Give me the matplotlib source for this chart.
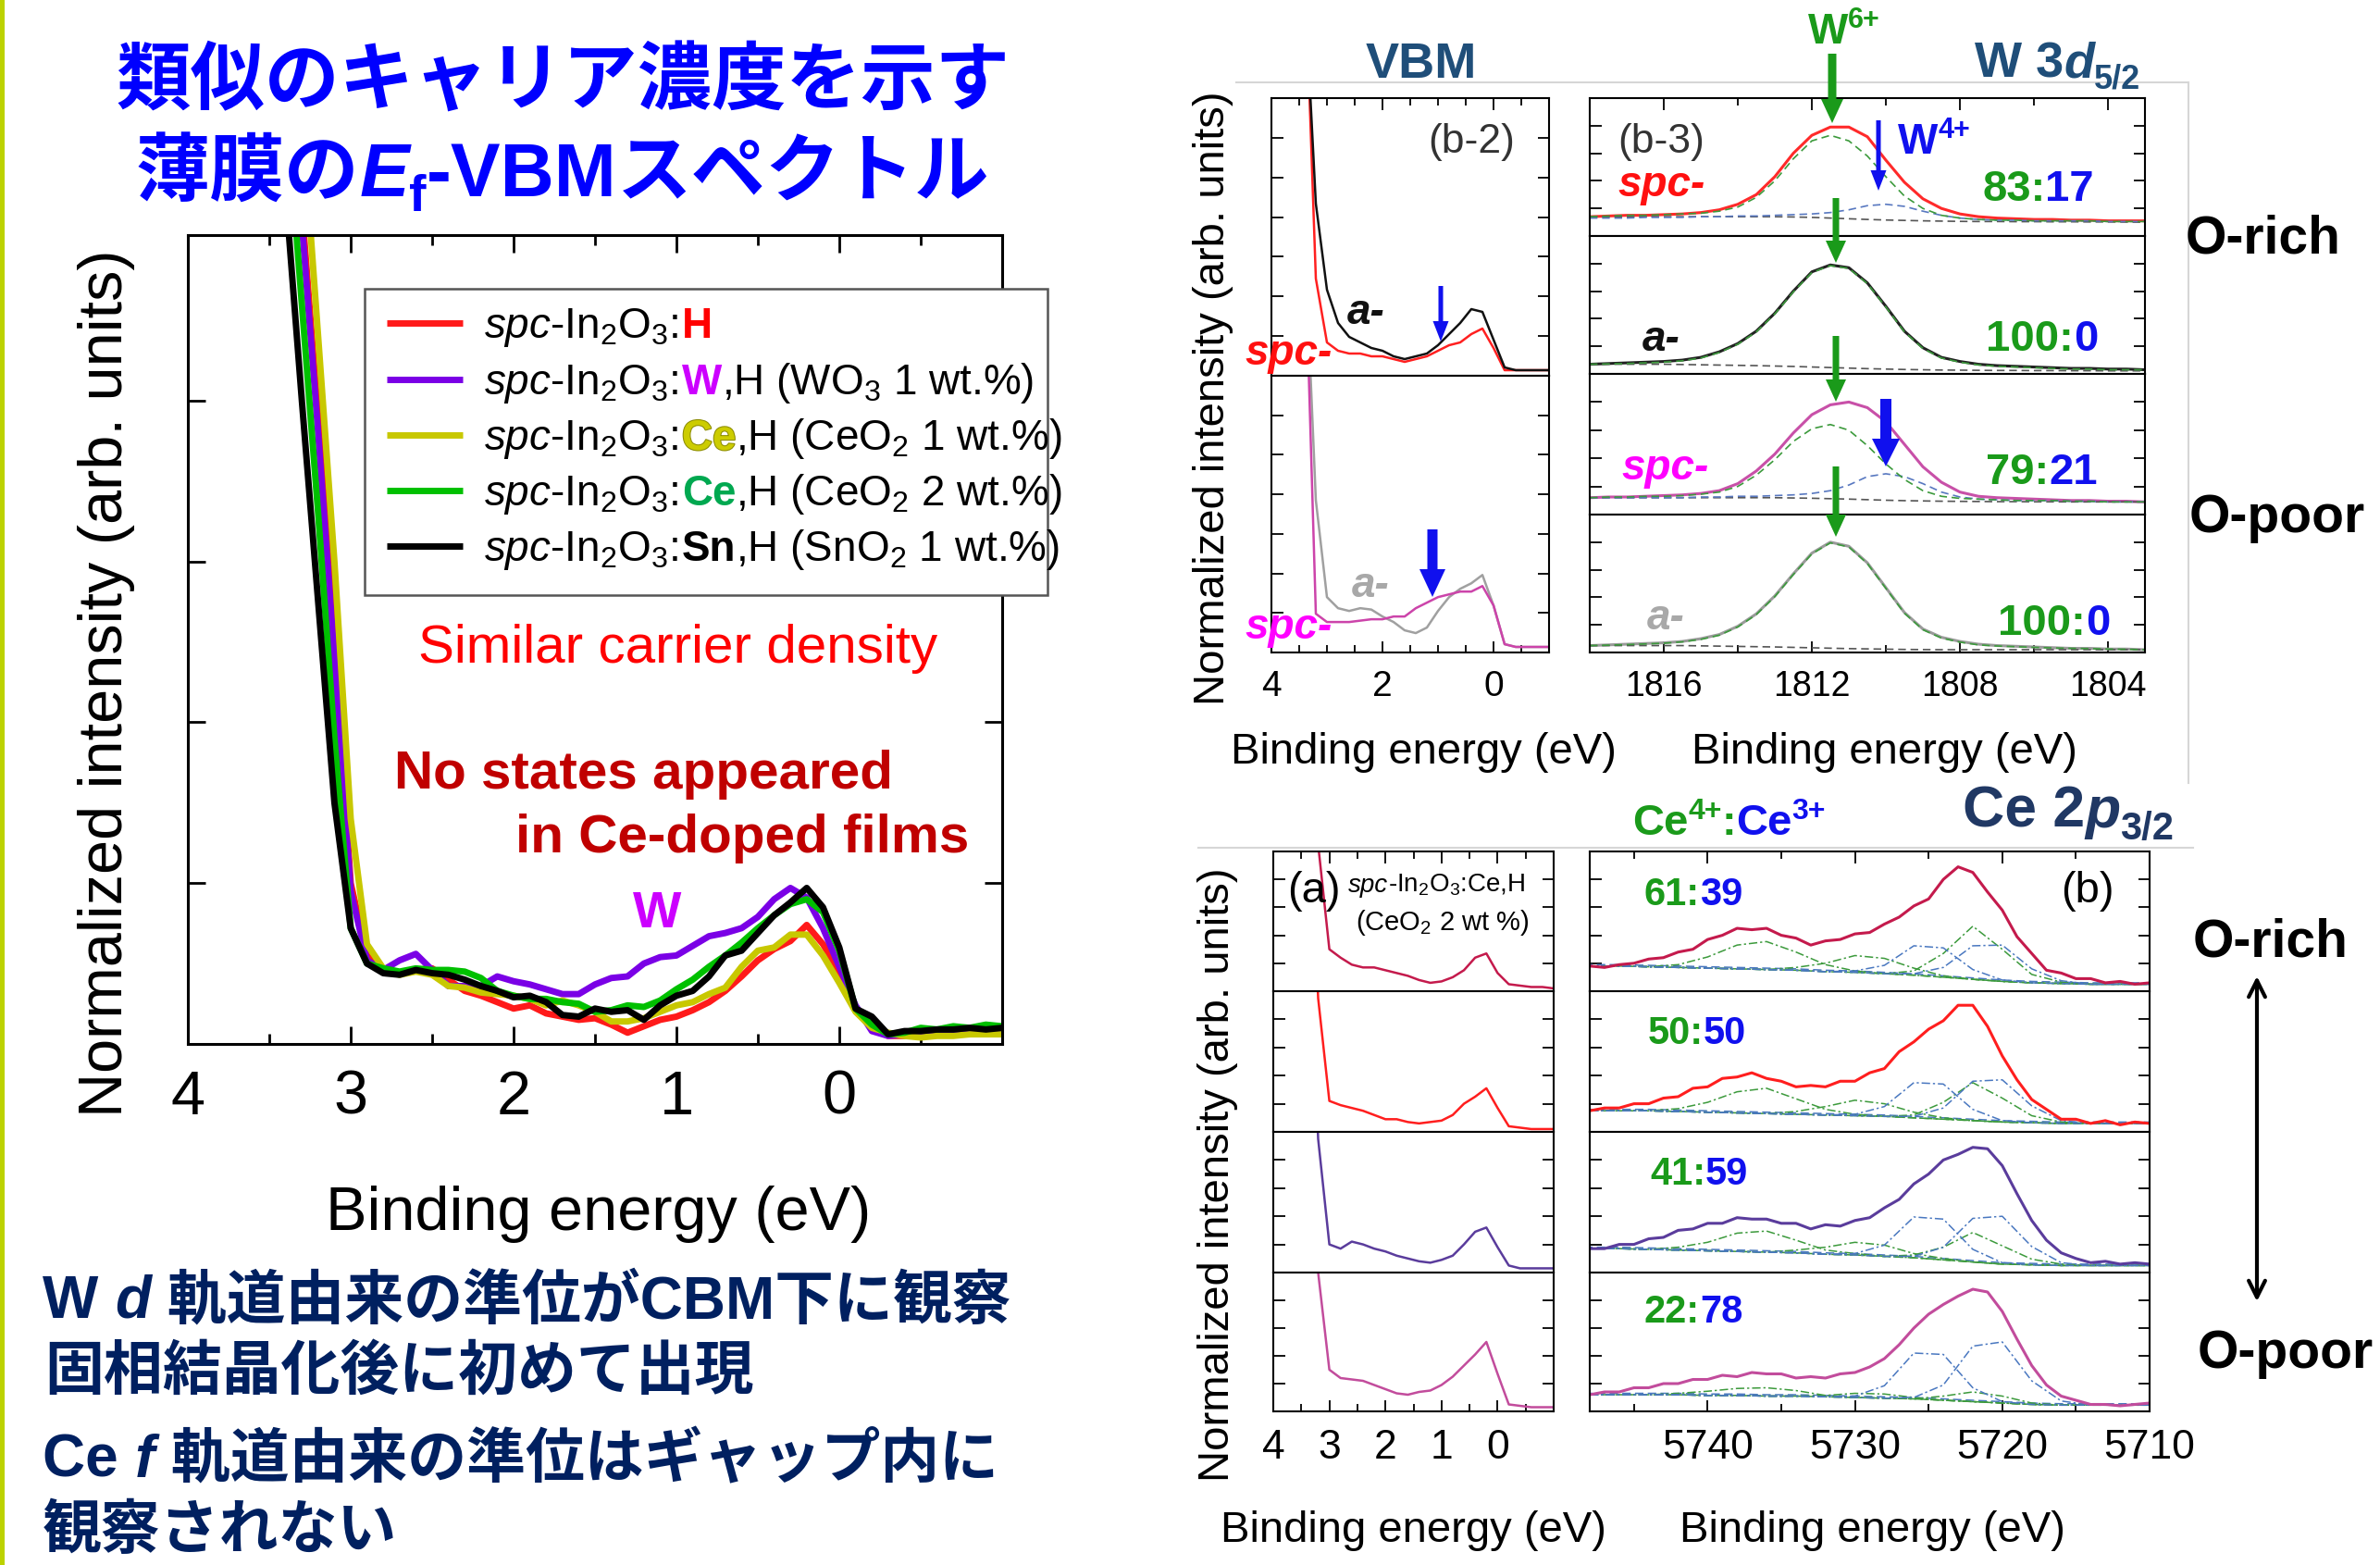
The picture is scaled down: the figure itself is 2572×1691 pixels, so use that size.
import numpy as np
import matplotlib
matplotlib.use("Agg")
import matplotlib.pyplot as plt
import matplotlib.patheffects as pe
from matplotlib.patches import FancyArrow, Rectangle
from matplotlib.ticker import (FixedLocator, MultipleLocator, NullLocator,
                               NullFormatter, FormatStrFormatter)

LATIN = "Liberation Sans"
CJK = "Noto Sans CJK JP"
plt.rcParams.update({
    "font.family": [LATIN, CJK, "DejaVu Sans"],
    "mathtext.fontset": "custom",
    "mathtext.rm": LATIN,
    "mathtext.it": LATIN + ":italic",
    "mathtext.bf": LATIN + ":bold",
    "axes.unicode_minus": False,
})

# ---------------- data: E_F - VBM spectra of the five spc films ----------------
E_MAIN = [3.6, 3.5, 3.4, 3.3, 3.2, 3.1, 3.0, 2.9, 2.8,
          2.7, 2.6, 2.5, 2.4, 2.3, 2.2, 2.1, 2.0,
          1.9, 1.8, 1.7, 1.6, 1.5, 1.4, 1.3, 1.2, 1.1, 1.0,
          0.9, 0.8, 0.7, 0.6, 0.5, 0.4, 0.3, 0.2, 0.1, 0.0,
          -0.1, -0.2, -0.3, -0.4, -0.5, -0.6, -0.7, -0.8, -0.9, -1.0]
VBM_H = [9.0, 7.8, 6.5, 5.2, 3.9, 2.5, 1.0, 0.55, 0.46,
         0.44, 0.46, 0.47, 0.40, 0.33, 0.30, 0.26, 0.22,
         0.24, 0.19, 0.17, 0.15, 0.16, 0.12, 0.07, 0.11, 0.15, 0.17,
         0.21, 0.26, 0.33, 0.42, 0.52, 0.59, 0.64, 0.74, 0.62, 0.45,
         0.22, 0.10, 0.05, 0.05, 0.06, 0.06, 0.07, 0.06, 0.07, 0.07]
VBM_W = [9.0, 7.7, 6.4, 5.1, 3.8, 2.4, 0.95, 0.52, 0.46,
         0.52, 0.56, 0.46, 0.36, 0.36, 0.36, 0.42, 0.39,
         0.37, 0.34, 0.31, 0.31, 0.37, 0.41, 0.42, 0.50, 0.54, 0.55,
         0.61, 0.67, 0.69, 0.72, 0.79, 0.90, 0.97, 0.91, 0.72, 0.48,
         0.24, 0.08, 0.05, 0.06, 0.06, 0.07, 0.07, 0.08, 0.08, 0.08]
VBM_CE1 = [9.8, 8.5, 7.2, 5.8, 4.4, 3.0, 1.4, 0.62, 0.47,
           0.43, 0.45, 0.43, 0.36, 0.35, 0.32, 0.31, 0.30,
           0.28, 0.24, 0.27, 0.24, 0.20, 0.14, 0.14, 0.16, 0.20, 0.24,
           0.26, 0.31, 0.35, 0.48, 0.58, 0.60, 0.68, 0.68, 0.55, 0.38,
           0.20, 0.10, 0.07, 0.05, 0.04, 0.05, 0.05, 0.06, 0.06, 0.06]
VBM_CE2 = [8.5, 7.2, 5.9, 4.6, 3.3, 1.9, 0.72, 0.50, 0.47,
           0.45, 0.47, 0.46, 0.46, 0.45, 0.41, 0.33, 0.30,
           0.28, 0.28, 0.26, 0.25, 0.20, 0.21, 0.24, 0.23, 0.27, 0.34,
           0.40, 0.48, 0.55, 0.63, 0.72, 0.80, 0.87, 0.90, 0.82, 0.58,
           0.22, 0.12, 0.06, 0.07, 0.10, 0.09, 0.11, 0.10, 0.12, 0.11]
VBM_SN = [7.9, 6.6, 5.3, 4.0, 2.75, 1.5, 0.72, 0.50, 0.44,
          0.43, 0.46, 0.44, 0.43, 0.40, 0.36, 0.33, 0.29,
          0.30, 0.26, 0.18, 0.17, 0.22, 0.20, 0.21, 0.15, 0.24, 0.30,
          0.33, 0.42, 0.55, 0.58, 0.69, 0.80, 0.88, 0.97, 0.85, 0.60,
          0.22, 0.17, 0.06, 0.08, 0.08, 0.09, 0.09, 0.10, 0.09, 0.10]
MAIN_XTICKS = [4, 3, 2, 1, 0]

# ---------------- data: W-doped films, VBM (b-2) ----------------
E_SMALL = [4.0, 3.8, 3.6, 3.4, 3.2, 3.0, 2.8, 2.6, 2.4, 2.2, 2.0, 1.8, 1.6,
           1.4, 1.2, 1.0, 0.8, 0.6, 0.4, 0.2, 0.0, -0.2, -0.4, -0.6, -0.8, -1.0]
WV_A_RICH = [3, 3, 3, 1.4, 0.62, 0.31, 0.19, 0.14, 0.12, 0.10, 0.09, 0.07, 0.06,
             0.07, 0.08, 0.11, 0.15, 0.19, 0.24, 0.23, 0.13, 0.03, 0.02, 0.02, 0.02, 0.02]
WV_SPC_RICH = [3, 3, 3, 1.5, 0.35, 0.12, 0.09, 0.08, 0.08, 0.07, 0.07, 0.06, 0.05,
               0.06, 0.07, 0.09, 0.11, 0.12, 0.15, 0.17, 0.10, 0.02, 0.02, 0.02, 0.02, 0.02]
WV_A_POOR = [3, 3, 3, 1.5, 0.55, 0.20, 0.16, 0.15, 0.16, 0.155, 0.13, 0.11, 0.08,
             0.07, 0.09, 0.15, 0.20, 0.23, 0.25, 0.28, 0.17, 0.03, 0.02, 0.02, 0.02, 0.02]
WV_SPC_POOR = [3, 3, 3, 1.5, 0.14, 0.11, 0.11, 0.11, 0.115, 0.12, 0.12, 0.13, 0.13,
               0.16, 0.18, 0.20, 0.21, 0.22, 0.22, 0.24, 0.17, 0.03, 0.02, 0.02, 0.02, 0.02]

# ---------------- data: W 3d5/2 core level (b-3) ----------------
E_W = [1818.0, 1817.5, 1817.0, 1816.5, 1816.0, 1815.5, 1815.0, 1814.5, 1814.0,
       1813.5, 1813.0, 1812.5, 1812.0, 1811.5, 1811.0, 1810.5, 1810.0, 1809.5,
       1809.0, 1808.5, 1808.0, 1807.5, 1807.0, 1806.5, 1806.0, 1805.5, 1805.0,
       1804.5, 1804.0, 1803.5, 1803.0]
W_SPC_RICH = [0.14, 0.145, 0.15, 0.15, 0.155, 0.16, 0.17, 0.19, 0.23, 0.30, 0.43,
              0.60, 0.73, 0.79, 0.79, 0.72, 0.55, 0.39, 0.27, 0.20, 0.16, 0.14,
              0.13, 0.125, 0.12, 0.12, 0.115, 0.115, 0.11, 0.11, 0.11]
W_SPC_RICH_W6 = [0.14, 0.145, 0.15, 0.15, 0.155, 0.16, 0.165, 0.18, 0.21, 0.28, 0.40,
                 0.56, 0.69, 0.73, 0.69, 0.58, 0.43, 0.29, 0.20, 0.15, 0.13, 0.12,
                 0.115, 0.115, 0.11, 0.11, 0.11, 0.11, 0.105, 0.105, 0.105]
W_SPC_RICH_W4 = [0.13, 0.13, 0.13, 0.135, 0.135, 0.135, 0.14, 0.14, 0.145, 0.145, 0.15,
                 0.155, 0.16, 0.17, 0.19, 0.22, 0.23, 0.215, 0.18, 0.15, 0.13, 0.12,
                 0.115, 0.115, 0.11, 0.11, 0.11, 0.11, 0.105, 0.105, 0.105]
W_SPC_RICH_BG = [0.14, 0.14, 0.14, 0.14, 0.14, 0.14, 0.14, 0.14, 0.14, 0.14, 0.14,
                 0.138, 0.135, 0.13, 0.125, 0.12, 0.116, 0.113, 0.11, 0.108, 0.106,
                 0.105, 0.105, 0.104, 0.104, 0.103, 0.103, 0.102, 0.102, 0.101, 0.10]
W_A_RICH = [0.07, 0.075, 0.08, 0.085, 0.09, 0.10, 0.12, 0.16, 0.22, 0.31, 0.44,
            0.60, 0.74, 0.79, 0.77, 0.66, 0.49, 0.31, 0.19, 0.12, 0.09, 0.07,
            0.06, 0.055, 0.05, 0.045, 0.04, 0.04, 0.035, 0.035, 0.03]
W_A_RICH_W6 = [0.07, 0.072, 0.075, 0.08, 0.085, 0.095, 0.115, 0.155, 0.215, 0.305, 0.435,
               0.595, 0.735, 0.785, 0.765, 0.655, 0.485, 0.305, 0.185, 0.115, 0.085,
               0.065, 0.055, 0.05, 0.045, 0.04, 0.035, 0.035, 0.03, 0.03, 0.03]
W_A_RICH_BG = [0.07, 0.07, 0.07, 0.07, 0.07, 0.068, 0.066, 0.064, 0.062, 0.06, 0.057,
               0.054, 0.05, 0.046, 0.042, 0.038, 0.035, 0.032, 0.03, 0.028, 0.027,
               0.026, 0.025, 0.025, 0.024, 0.024, 0.023, 0.023, 0.022, 0.022, 0.022]
W_SPC_POOR = [0.12, 0.125, 0.125, 0.13, 0.135, 0.14, 0.15, 0.17, 0.22, 0.31, 0.43,
              0.58, 0.71, 0.78, 0.80, 0.76, 0.66, 0.50, 0.34, 0.23, 0.16, 0.13,
              0.12, 0.115, 0.11, 0.105, 0.10, 0.10, 0.095, 0.095, 0.09]
W_SPC_POOR_W6 = [0.12, 0.125, 0.125, 0.13, 0.13, 0.135, 0.145, 0.16, 0.20, 0.28, 0.39,
                 0.52, 0.61, 0.64, 0.60, 0.49, 0.36, 0.25, 0.17, 0.13, 0.115, 0.11,
                 0.105, 0.10, 0.10, 0.10, 0.095, 0.095, 0.09, 0.09, 0.09]
W_SPC_POOR_W4 = [0.12, 0.12, 0.12, 0.12, 0.12, 0.12, 0.125, 0.125, 0.13, 0.13, 0.135,
                 0.14, 0.15, 0.17, 0.21, 0.27, 0.29, 0.27, 0.22, 0.16, 0.125, 0.11,
                 0.105, 0.10, 0.10, 0.10, 0.095, 0.095, 0.09, 0.09, 0.09]
W_SPC_POOR_BG = [0.12, 0.12, 0.12, 0.12, 0.12, 0.12, 0.12, 0.12, 0.12, 0.12, 0.12,
                 0.118, 0.116, 0.113, 0.11, 0.106, 0.102, 0.099, 0.097, 0.095, 0.094,
                 0.093, 0.092, 0.092, 0.091, 0.091, 0.09, 0.09, 0.09, 0.09, 0.09]
W_A_POOR = [0.05, 0.055, 0.06, 0.065, 0.07, 0.08, 0.10, 0.13, 0.19, 0.28, 0.41,
            0.57, 0.72, 0.80, 0.77, 0.65, 0.47, 0.29, 0.17, 0.11, 0.08, 0.06,
            0.05, 0.045, 0.04, 0.035, 0.03, 0.03, 0.025, 0.025, 0.02]
W_A_POOR_W6 = [0.05, 0.053, 0.057, 0.062, 0.067, 0.077, 0.095, 0.125, 0.185, 0.275, 0.405,
               0.565, 0.715, 0.795, 0.765, 0.645, 0.465, 0.285, 0.165, 0.105, 0.075,
               0.055, 0.047, 0.042, 0.037, 0.033, 0.03, 0.028, 0.025, 0.023, 0.02]
W_A_POOR_BG = [0.05, 0.05, 0.05, 0.05, 0.05, 0.05, 0.048, 0.046, 0.044, 0.042, 0.04,
               0.037, 0.034, 0.031, 0.028, 0.026, 0.024, 0.022, 0.021, 0.02, 0.02,
               0.02, 0.02, 0.02, 0.02, 0.02, 0.02, 0.02, 0.02, 0.02, 0.02]
W_RATIOS = [("83", "17"), ("100", "0"), ("79", "21"), ("100", "0")]

# ---------------- data: Ce-doped films, VBM (a) ----------------
CV_1 = [3, 3, 3, 3.0, 1.05, 0.30, 0.24, 0.19, 0.17, 0.17, 0.15, 0.13, 0.11,
        0.08, 0.06, 0.07, 0.10, 0.15, 0.24, 0.27, 0.13, 0.05, 0.04, 0.03, 0.03, 0.02]
CV_2 = [3, 3, 3, 3.0, 0.95, 0.22, 0.19, 0.17, 0.15, 0.12, 0.09, 0.09, 0.07,
        0.06, 0.07, 0.08, 0.12, 0.20, 0.25, 0.31, 0.17, 0.04, 0.03, 0.02, 0.02, 0.02]
CV_3 = [3, 3, 3, 3.0, 0.95, 0.20, 0.17, 0.22, 0.20, 0.17, 0.15, 0.12, 0.10,
        0.08, 0.07, 0.09, 0.12, 0.20, 0.29, 0.32, 0.18, 0.05, 0.03, 0.03, 0.03, 0.03]
CV_4 = [3, 3, 3, 3.0, 1.0, 0.30, 0.24, 0.23, 0.22, 0.19, 0.16, 0.13, 0.12,
        0.14, 0.15, 0.19, 0.25, 0.33, 0.41, 0.50, 0.27, 0.05, 0.04, 0.03, 0.03, 0.03]

# ---------------- data: Ce 2p3/2 core level (b) ----------------
E_CE = [5748, 5747, 5746, 5745, 5744, 5743, 5742, 5741, 5740, 5739, 5738, 5737, 5736,
        5735, 5734, 5733, 5732, 5731, 5730, 5729, 5728, 5727, 5726, 5725, 5724, 5723,
        5722, 5721, 5720, 5719, 5718, 5717, 5716, 5715, 5714, 5713, 5712, 5711, 5710]
CE_61 = [0.18, 0.17, 0.19, 0.20, 0.23, 0.24, 0.28, 0.30, 0.37, 0.40, 0.45, 0.44, 0.45,
         0.40, 0.38, 0.33, 0.36, 0.37, 0.41, 0.42, 0.48, 0.53, 0.61, 0.66, 0.80, 0.89,
         0.85, 0.71, 0.58, 0.39, 0.27, 0.15, 0.13, 0.09, 0.09, 0.06, 0.07, 0.05, 0.06]
CE_50 = [0.15, 0.17, 0.17, 0.20, 0.20, 0.24, 0.25, 0.31, 0.32, 0.38, 0.39, 0.42, 0.38,
         0.36, 0.32, 0.33, 0.32, 0.36, 0.36, 0.42, 0.45, 0.57, 0.64, 0.73, 0.79, 0.90,
         0.90, 0.75, 0.54, 0.37, 0.23, 0.16, 0.09, 0.09, 0.06, 0.08, 0.05, 0.07, 0.06]
CE_41 = [0.17, 0.17, 0.20, 0.20, 0.24, 0.25, 0.30, 0.31, 0.35, 0.35, 0.39, 0.38, 0.38,
         0.35, 0.35, 0.31, 0.34, 0.33, 0.37, 0.39, 0.46, 0.52, 0.63, 0.70, 0.80, 0.84,
         0.89, 0.88, 0.76, 0.56, 0.37, 0.23, 0.14, 0.10, 0.07, 0.08, 0.06, 0.07, 0.06]
CE_22 = [0.12, 0.14, 0.14, 0.17, 0.17, 0.20, 0.20, 0.23, 0.23, 0.26, 0.25, 0.28, 0.27,
         0.27, 0.24, 0.25, 0.24, 0.27, 0.28, 0.32, 0.38, 0.48, 0.60, 0.70, 0.77, 0.83,
         0.88, 0.86, 0.72, 0.52, 0.33, 0.19, 0.11, 0.08, 0.05, 0.05, 0.04, 0.05, 0.06]

# fitted components (height above background) on a 2 eV grid
E_CE_FIT = [5748, 5746, 5744, 5742, 5740, 5738, 5736, 5734, 5732, 5730,
            5728, 5726, 5724, 5722, 5720, 5718, 5716, 5714, 5712, 5710]
CE_FIT_61 = {
    "bg":  [0.18, 0.18, 0.175, 0.17, 0.165, 0.16, 0.155, 0.15, 0.14, 0.135,
            0.125, 0.115, 0.10, 0.085, 0.07, 0.06, 0.055, 0.05, 0.05, 0.05],
    "sat4": [0, 0, 0, 0.02, 0.08, 0.17, 0.20, 0.13, 0.05, 0.01, 0, 0, 0, 0, 0, 0, 0, 0, 0, 0],
    "mid4": [0, 0, 0, 0, 0, 0, 0, 0.02, 0.06, 0.12, 0.11, 0.05, 0.01, 0, 0, 0, 0, 0, 0, 0],
    "main4": [0, 0, 0, 0, 0, 0, 0, 0, 0, 0, 0, 0.03, 0.17, 0.38, 0.23, 0.06, 0.01, 0, 0, 0],
    "a3": [0, 0, 0, 0, 0, 0, 0, 0, 0, 0.01, 0.06, 0.21, 0.21, 0.07, 0.01, 0, 0, 0, 0, 0],
    "b3": [0, 0, 0, 0, 0, 0, 0, 0, 0, 0, 0, 0.01, 0.07, 0.24, 0.26, 0.10, 0.02, 0, 0, 0],
}
CE_FIT_50 = {
    "bg":  [0.15, 0.15, 0.15, 0.145, 0.14, 0.135, 0.13, 0.125, 0.12, 0.115,
            0.11, 0.10, 0.09, 0.08, 0.07, 0.065, 0.06, 0.06, 0.06, 0.06],
    "sat4": [0, 0, 0, 0.02, 0.07, 0.15, 0.18, 0.11, 0.04, 0.01, 0, 0, 0, 0, 0, 0, 0, 0, 0, 0],
    "mid4": [0, 0, 0, 0, 0, 0, 0, 0.02, 0.06, 0.11, 0.09, 0.04, 0.01, 0, 0, 0, 0, 0, 0, 0],
    "main4": [0, 0, 0, 0, 0, 0, 0, 0, 0, 0, 0, 0.02, 0.12, 0.27, 0.17, 0.05, 0.01, 0, 0, 0],
    "a3": [0, 0, 0, 0, 0, 0, 0, 0, 0, 0.01, 0.07, 0.25, 0.25, 0.08, 0.01, 0, 0, 0, 0, 0],
    "b3": [0, 0, 0, 0, 0, 0, 0, 0, 0, 0, 0, 0.01, 0.08, 0.28, 0.30, 0.12, 0.02, 0, 0, 0],
}
CE_FIT_41 = {
    "bg":  [0.17, 0.17, 0.165, 0.16, 0.155, 0.15, 0.145, 0.14, 0.13, 0.125,
            0.115, 0.105, 0.09, 0.075, 0.06, 0.055, 0.05, 0.05, 0.05, 0.05],
    "sat4": [0, 0, 0, 0.02, 0.06, 0.13, 0.15, 0.09, 0.03, 0.01, 0, 0, 0, 0, 0, 0, 0, 0, 0, 0],
    "mid4": [0, 0, 0, 0, 0, 0, 0, 0.02, 0.05, 0.09, 0.08, 0.03, 0.01, 0, 0, 0, 0, 0, 0, 0],
    "main4": [0, 0, 0, 0, 0, 0, 0, 0, 0, 0, 0, 0.02, 0.09, 0.21, 0.13, 0.04, 0.01, 0, 0, 0],
    "a3": [0, 0, 0, 0, 0, 0, 0, 0, 0, 0.01, 0.08, 0.29, 0.29, 0.09, 0.01, 0, 0, 0, 0, 0],
    "b3": [0, 0, 0, 0, 0, 0, 0, 0, 0, 0, 0, 0.01, 0.09, 0.31, 0.34, 0.13, 0.02, 0, 0, 0],
}
CE_FIT_22 = {
    "bg":  [0.12, 0.12, 0.12, 0.12, 0.115, 0.115, 0.11, 0.11, 0.105, 0.10,
            0.095, 0.09, 0.08, 0.07, 0.06, 0.05, 0.045, 0.045, 0.045, 0.045],
    "sat4": [0, 0, 0, 0.01, 0.03, 0.05, 0.06, 0.04, 0.01, 0, 0, 0, 0, 0, 0, 0, 0, 0, 0, 0],
    "mid4": [0, 0, 0, 0, 0, 0, 0, 0, 0.01, 0.03, 0.03, 0.01, 0, 0, 0, 0, 0, 0, 0, 0],
    "main4": [0, 0, 0, 0, 0, 0, 0, 0, 0, 0, 0, 0, 0.03, 0.07, 0.05, 0.01, 0, 0, 0, 0],
    "a3": [0, 0, 0, 0, 0, 0, 0, 0, 0, 0.01, 0.09, 0.33, 0.33, 0.10, 0.01, 0, 0, 0, 0, 0],
    "b3": [0, 0, 0, 0, 0, 0, 0, 0, 0, 0, 0, 0.01, 0.11, 0.40, 0.44, 0.17, 0.03, 0, 0, 0],
}
CE_RATIOS = [("61", "39"), ("50", "50"), ("41", "59"), ("22", "78")]

# ---------------- colours ----------------
C_H, C_W, C_CE1, C_CE2, C_SN = "#ff1a1a", "#7a00e6", "#c8c800", "#00c000", "#000000"
GREEN_T, BLUE_T = "#1a9a1a", "#1010ee"
NAVY = "#1f4e79"
CE_COLORS = ["#c41a4c", "#ff1e1e", "#5a3c9c", "#c24c9c"]

W, H, DPI = 2572, 1691, 100
fig = plt.figure(figsize=(W / DPI, H / DPI), dpi=DPI)
fig.patch.set_facecolor("white")


def px_axes(x0, y0, x1, y1, **kw):
    return fig.add_axes([x0 / W, 1 - y1 / H, (x1 - x0) / W, (y1 - y0) / H], **kw)


# ---------------- main comparison plot ----------------
ax = px_axes(203, 254, 1083, 1128)
for vals, col in [(VBM_H, C_H), (VBM_W, C_W), (VBM_CE1, C_CE1),
                  (VBM_CE2, C_CE2), (VBM_SN, C_SN)]:
    ax.plot(E_MAIN, vals, color=col, lw=5, solid_joinstyle="round")
ax.set_xlim(4, -1)
ax.set_ylim(0, 5.03)
ax.xaxis.set_major_locator(FixedLocator(MAIN_XTICKS))
ax.xaxis.set_major_formatter(FormatStrFormatter("%g"))
ax.xaxis.set_minor_locator(MultipleLocator(0.5))
ax.yaxis.set_major_locator(FixedLocator([1, 2, 3, 4]))
ax.yaxis.set_minor_locator(NullLocator())
ax.yaxis.set_major_formatter(NullFormatter())
ax.tick_params(which="both", direction="in", top=True, right=True, width=2)
ax.tick_params(which="major", length=14, labelsize=48, pad=20)
ax.tick_params(which="minor", length=8)
for s in ax.spines.values():
    s.set_linewidth(2.2)


# ---------------- stacked spectra panels ----------------
def stack(x0, x1, ys):
    return [px_axes(x0, ys[i], x1, ys[i + 1]) for i in range(len(ys) - 1)]


def style_stack(axs, xlim, xmajor, xminor, ystep, labelsize):
    n = len(axs)
    for i, a in enumerate(axs):
        a.set_xlim(*xlim)
        a.set_ylim(0, 1)
        a.xaxis.set_major_locator(FixedLocator(xmajor))
        a.xaxis.set_major_formatter(FormatStrFormatter("%g"))
        a.xaxis.set_minor_locator(MultipleLocator(xminor))
        a.yaxis.set_major_locator(MultipleLocator(ystep))
        a.yaxis.set_minor_locator(NullLocator())
        a.yaxis.set_major_formatter(NullFormatter())
        a.tick_params(which="both", direction="in", left=True, right=True,
                      top=(i == 0), bottom=(i == n - 1),
                      labelbottom=(i == n - 1), labelleft=False, width=1.3)
        a.tick_params(which="major", length=9, labelsize=labelsize, pad=14)
        a.tick_params(which="minor", length=6)
        for s in a.spines.values():
            s.set_linewidth(1.5)


# W-doped VBM
wv = stack(1374, 1674, [106, 406, 705])
wv[0].plot(E_SMALL, WV_SPC_RICH, color="#ff2020", lw=1.8)
wv[0].plot(E_SMALL, WV_A_RICH, color="#111111", lw=1.8)
wv[1].plot(E_SMALL, WV_A_POOR, color="#a0a0a0", lw=1.8)
wv[1].plot(E_SMALL, WV_SPC_POOR, color="#cc44aa", lw=1.8)
style_stack(wv, (4, -1), [4, 2, 0], 0.5, 1 / 7, 28)

# W 3d5/2 core level
wd = stack(1718, 2318, [106, 255, 404, 556, 705])
w_sets = [
    (W_SPC_RICH, W_SPC_RICH_W6, W_SPC_RICH_W4, W_SPC_RICH_BG, "#ff2a2a"),
    (W_A_RICH, W_A_RICH_W6, None, W_A_RICH_BG, "#222222"),
    (W_SPC_POOR, W_SPC_POOR_W6, W_SPC_POOR_W4, W_SPC_POOR_BG, "#c850a8"),
    (W_A_POOR, W_A_POOR_W6, None, W_A_POOR_BG, "#9a9a9a"),
]
for a, (d, w6, w4, bg, col) in zip(wd, w_sets):
    a.plot(E_W, d, color=col, lw=2.2)
    a.plot(E_W, bg, color="#555555", lw=1.2, ls=(0, (5, 3)))
    if w4 is not None:
        a.plot(E_W, w4, color="#5878c0", lw=1.2, ls=(0, (5, 3)))
    a.plot(E_W, w6, color="#3c9a3c", lw=1.2, ls=(0, (5, 3)))
style_stack(wd, (1818, 1803), [1816, 1812, 1808, 1804], 2, 0.2, 27)

# Ce-doped VBM
cv = stack(1376, 1679, [920, 1071, 1223, 1375, 1525])
for a, d, col in zip(cv, [CV_1, CV_2, CV_3, CV_4], CE_COLORS):
    a.plot(E_SMALL, d, color=col, lw=1.8)
style_stack(cv, (4, -1), [4, 3, 2, 1, 0], 0.5, 0.2, 32)

# Ce 2p3/2 core level
cp = stack(1718, 2323, [920, 1071, 1223, 1375, 1525])
for a, d, fit, col in zip(cp, [CE_61, CE_50, CE_41, CE_22],
                          [CE_FIT_61, CE_FIT_50, CE_FIT_41, CE_FIT_22], CE_COLORS):
    bg = np.array(fit["bg"])
    a.plot(E_CE_FIT, bg, color="#3c9a3c", lw=1.1, ls=(0, (6, 3)))
    a.plot(E_CE_FIT, bg + 0.01, color="#4a78c0", lw=1.1, ls=(4, (6, 3)))
    for key in ("sat4", "mid4", "main4"):
        a.plot(E_CE_FIT, bg + np.array(fit[key]), color="#3c9a3c", lw=1.1,
               ls=(0, (6, 2, 1.5, 2)))
    for key in ("a3", "b3"):
        a.plot(E_CE_FIT, bg + np.array(fit[key]), color="#4a78c0", lw=1.1,
               ls=(0, (6, 2, 1.5, 2)))
    a.plot(E_CE, d, color=col, lw=2.2)
style_stack(cp, (5748, 5710), [5740, 5730, 5720, 5710], 5, 0.2, 32)

# ---------------- overlay for texts and arrows (pixel coordinates) ----------------
ov = fig.add_axes([0, 0, 1, 1], zorder=30)
ov.set_xlim(0, W)
ov.set_ylim(H, 0)
ov.set_autoscale_on(False)
ov.axis("off")
ov.patch.set_alpha(0)

renderer = fig.canvas.get_renderer()


def advance(s, kw):
    a = ov.text(0, 0, "x" + s + "x", **kw)
    b = ov.text(0, 0, "xx", **kw)
    w = a.get_window_extent(renderer).width - b.get_window_extent(renderer).width
    a.remove()
    b.remove()
    return w


def rich(x, y, parts, ha="left", **common):
    items = []
    for p in parts:
        kw = dict(common)
        kw.update(p[1])
        dy = p[2] if len(p) > 2 else 0
        items.append((p[0], kw, dy, advance(p[0], kw)))
    total = sum(it[3] for it in items)
    cx = x - total / 2 if ha == "center" else (x - total if ha == "right" else x)
    for s, kw, dy, w in items:
        ov.text(cx, y + dy, s, ha="left", va="baseline", **kw)
        cx += w


def arrow(x, y0, y1, color, shaft, head_w, head_l):
    ov.add_patch(FancyArrow(x, y0, 0, y1 - y0, width=shaft, head_width=head_w,
                            head_length=head_l, length_includes_head=True,
                            color=color, lw=0, zorder=5))


# left accent bar and faint frame lines
ov.add_patch(Rectangle((0, 0), 5, H, color="#bcd200", lw=0))
ov.plot([1336, 2365], [89, 89], color="#d6d6d6", lw=1.5, zorder=0)
ov.plot([2365, 2365], [89, 846], color="#d6d6d6", lw=1.5, zorder=0)
ov.plot([1295, 2370], [916, 916], color="#d6d6d6", lw=1.5, zorder=0)

# title
BLUE = "#0000ff"
tkw = dict(color=BLUE, weight="bold", size=58)
rich(608, 113, [("類似のキャリア濃度を示す", dict(family=[CJK]))], ha="center", **tkw)
rich(608, 212, [("薄膜の", dict(family=[CJK])),
                ("E", dict(family=[LATIN], style="italic")),
                ("f", dict(family=[LATIN], size=40), 16),
                ("-VBM", dict(family=[LATIN])),
                ("スペクトル", dict(family=[CJK]))], ha="center", **tkw)

# main plot labels
ov.text(647, 1312, "Binding energy (eV)", size=48, ha="center", va="center")
ov.text(115, 738, "Normalized intensity (arb. units)", size=48, rotation=90,
        ha="center", va="center")

# legend
ov.add_patch(Rectangle((394, 312), 738, 331, facecolor="white", edgecolor="#555555",
                       lw=1.8, zorder=1))
leg_rows = [
    (C_H, [("H", dict(color="#ff0000", weight="bold"))]),
    (C_W, [("W", dict(color="#cc00ff", weight="bold")),
           (",H (WO$_3$ 1 wt.%)", {})]),
    (C_CE1, [("Ce", dict(color="#cccc00", weight="bold",
                         path_effects=[pe.withStroke(linewidth=1.5, foreground="#8c8c00")])),
             (",H (CeO$_2$ 1 wt.%)", {})]),
    (C_CE2, [("Ce", dict(color="#00a850", weight="bold")),
             (",H (CeO$_2$ 2 wt.%)", {})]),
    (C_SN, [("Sn", dict(color="#000000", weight="bold")),
            (",H (SnO$_2$ 1 wt.%)", {})]),
]
for (col, tail), cy in zip(leg_rows, [349, 410, 470, 530, 590]):
    ov.plot([418, 500], [cy, cy], color=col, lw=5, solid_capstyle="butt", zorder=2)
    rich(523, cy + 16, [("$\\mathit{spc}$-In$_2$O$_3$:", {})] + tail, size=33, zorder=3)

# annotations inside the main plot
ov.text(733, 716, "Similar carrier density", color="#ff0000", size=42, ha="center",
        va="baseline")
ov.text(426, 852, "No states appeared", color="#c00000", size=42, weight="bold",
        ha="left", va="baseline")
ov.text(1047, 921, "in Ce-doped films", color="#c00000", size=42, weight="bold",
        ha="right", va="baseline")
ov.text(710, 1002, "W", color="#cc00ff", size=40, weight="bold", ha="center",
        va="baseline")

# bottom-left notes
NKW = dict(color="#002060", weight="bold", size=46)
rich(46, 1424, [("W ", dict(family=[LATIN])),
                ("d", dict(family=[LATIN], style="italic")),
                (" 軌道由来の準位がCBM下に観察", {})], **NKW)
rich(48, 1501, [("固相結晶化後に初めて出現", dict(family=[CJK]))], **NKW)
rich(46, 1596, [("Ce ", dict(family=[LATIN])),
                ("f", dict(family=[LATIN], style="italic")),
                (" 軌道由来の準位はギャップ内に", {})], **NKW)
rich(46, 1673, [("観察されない", dict(family=[CJK]))], **NKW)

# right-hand headers
ov.text(1536, 84, "VBM", color=NAVY, size=39, weight="bold", ha="center", va="baseline")
rich(2134, 84, [("W 3", {}), ("d", dict(style="italic")), ("5/2", dict(size=26), 12)],
     color=NAVY, size=39, weight="bold")
rich(1993, 47, [("W", {}), ("6+", dict(size=22), -17)], ha="center",
     color=GREEN_T, size=33, weight="bold")
rich(2051, 166, [("W", {}), ("4+", dict(size=22), -17)], color=BLUE_T, size=33,
     weight="bold")

# arrows marking W6+ / W4+ positions
arrow(1980, 58, 133, GREEN_T, 9, 24, 26)
for y0, y1 in [(214, 284), (363, 434), (504, 580)]:
    arrow(1984, y0, y1, GREEN_T, 7, 22, 24)
arrow(2030, 130, 206, BLUE_T, 5, 17, 22)
arrow(2038, 431, 504, BLUE_T, 12, 30, 30)
arrow(1557, 309, 369, BLUE_T, 5, 17, 22)
arrow(1548, 572, 645, BLUE_T, 11, 28, 30)

# panel labels
ov.text(1590, 154, "(b-2)", size=32, color="#333333", ha="center", va="center")
ov.text(1795, 154, "(b-3)", size=32, color="#333333", ha="center", va="center")
LKW = dict(size=33, weight="bold", style="italic")
ov.text(1456, 350, "a-", color="#111111", va="baseline", **LKW)
ov.text(1345, 394, "spc-", color="#ff1010", va="baseline", **LKW)
ov.text(1461, 645, "a-", color="#a8a8a8", va="baseline", **LKW)
ov.text(1345, 690, "spc-", color="#ff00ff", va="baseline", **LKW)
ov.text(1748, 212, "spc-", color="#ff1010", va="baseline", **LKW)
ov.text(1775, 379, "a-", color="#111111", va="baseline", **LKW)
ov.text(1752, 518, "spc-", color="#ff00ff", va="baseline", **LKW)
ov.text(1780, 680, "a-", color="#a8a8a8", va="baseline", **LKW)

for (g, b), (x, yb) in zip(W_RATIOS, [(2142, 217), (2146, 379), (2146, 523), (2159, 686)]):
    rich(x, yb, [(g + ":", dict(color=GREEN_T)), (b, dict(color=BLUE_T))],
         size=34, weight="bold")

OKW = dict(size=41, weight="bold", color="black", va="baseline")
ov.text(2362, 274, "O-rich", **OKW)
ov.text(2366, 575, "O-poor", **OKW)
ov.text(2370, 1033, "O-rich", **OKW)
ov.text(2375, 1478, "O-poor", **OKW)
ov.annotate("", xy=(2439, 1052), xytext=(2439, 1409),
            arrowprops=dict(arrowstyle="<->", lw=3, color="black", mutation_scale=32))

# axis labels of the right panels
for (x, y) in [(1538, 813), (2036, 813), (1527, 1654), (2023, 1654)]:
    ov.text(x, y, "Binding energy (eV)", size=34, ha="center", va="center")
for (x, y) in [(1311, 430), (1316, 1269)]:
    ov.text(x, y, "Normalized intensity (arb. units)", size=34, rotation=90,
            ha="center", va="center")

# Ce headers and panel labels
rich(1764, 902, [("Ce", dict(color=GREEN_T)), ("4+", dict(color=GREEN_T, size=23), -17),
                 (":", dict(color=GREEN_T)), ("Ce", dict(color=BLUE_T)),
                 ("3+", dict(color=BLUE_T, size=23), -17)], size=34, weight="bold")
rich(2121, 894, [("Ce 2", {}), ("p", dict(style="italic")), ("3/2", dict(size=30), 13)],
     color="#203864", size=45, weight="bold")
ov.text(1420, 963, "(a)", size=34, ha="center", va="center")
rich(1457, 964, [("spc", dict(style="italic")), ("-In$_2$O$_3$:Ce,H", {})], size=20)
rich(1465, 1005, [("(CeO$_2$ 2 wt %)", {})], size=21)
ov.text(2256, 963, "(b)", size=34, ha="center", va="center")
for (g, b), (x, yb) in zip(CE_RATIOS, [(1777, 978), (1781, 1128), (1783, 1280), (1777, 1429)]):
    rich(x, yb, [(g + ":", dict(color=GREEN_T)), (b, dict(color=BLUE_T))],
         size=30, weight="bold")

fig.savefig("out.png", dpi=DPI, facecolor="white")
